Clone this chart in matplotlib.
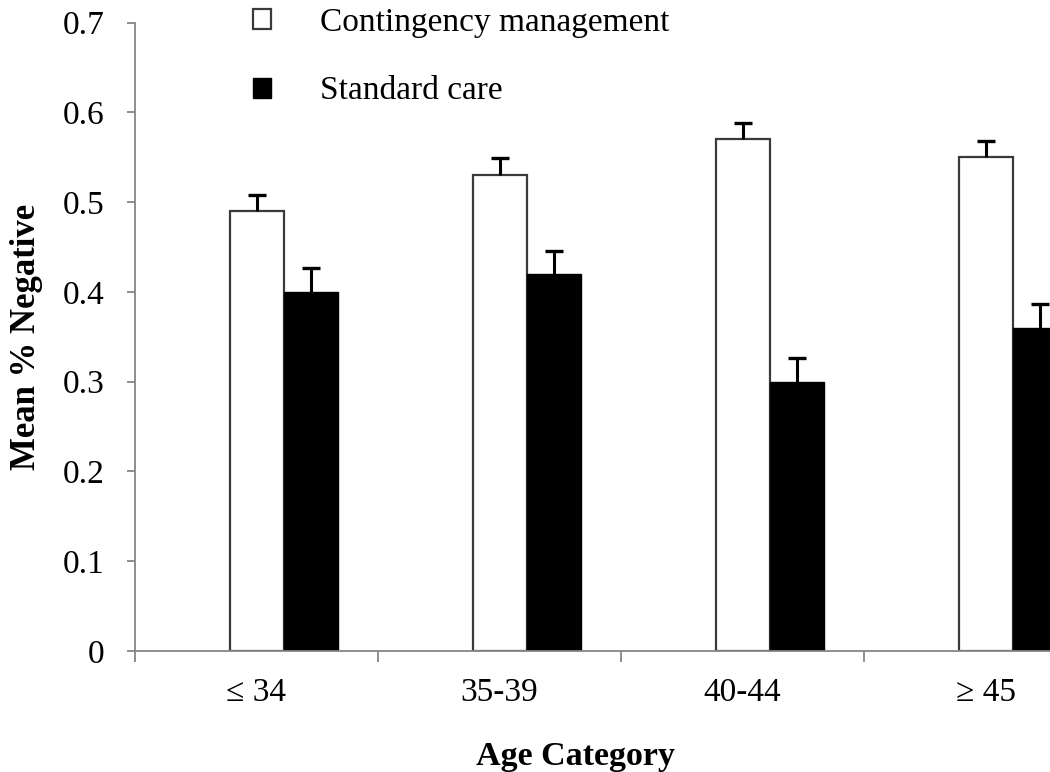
import matplotlib
matplotlib.use("Agg")
import matplotlib.pyplot as plt
import numpy as np

plt.rcParams['font.family'] = ['Liberation Serif', 'DejaVu Serif']

categories = ["\u2264 34", "35-39", "40-44", "\u2265 45"]
cm_values = [0.49, 0.53, 0.57, 0.55]
cm_errors = [0.018, 0.019, 0.018, 0.018]
sc_values = [0.40, 0.42, 0.30, 0.36]
sc_errors = [0.027, 0.026, 0.026, 0.027]
series_names = ["Contingency management", "Standard care"]

FS = 24
fig = plt.figure(figsize=(10.5, 7.72), dpi=100)
# axes extends past right figure edge (as in the reference crop)
ax = fig.add_axes([135/1050, (772-651)/772, 972/1050, 628.5/772])

x = np.arange(len(categories))
w = 1/4.5
axis_gray = '#868686'

b1 = ax.bar(x, cm_values, w, color='white', edgecolor='#3a3a3a', linewidth=1.6, zorder=2)
b2 = ax.bar(x + w, sc_values, w, color='black', edgecolor='black', linewidth=1.0, zorder=2)
for xs, vals, errs in [(x, cm_values, cm_errors), (x + w, sc_values, sc_errors)]:
    eb = ax.errorbar(xs, vals, yerr=[np.zeros(len(vals)), errs], fmt='none', ecolor='black',
                     elinewidth=2.2, capsize=6.5, capthick=2.4, zorder=3)
    caps = eb.lines[1]
    caps[0].set_visible(False)

ax.set_xlim(-0.5, len(categories) - 0.5)
ax.set_ylim(0, 0.7)
ax.set_yticks(np.arange(0, 0.71, 0.1))
ax.set_yticklabels(['0'] + [f'{v:.1f}' for v in np.arange(0.1, 0.71, 0.1)], fontsize=FS)

for s in ['top', 'right']:
    ax.spines[s].set_visible(False)
for s in ['left', 'bottom']:
    ax.spines[s].set_color(axis_gray)
    ax.spines[s].set_linewidth(1.3)

ax.tick_params(axis='y', direction='out', length=6, width=1.3, color=axis_gray, pad=16)
ax.set_xticks(np.arange(-0.5, len(categories)), minor=False)
ax.set_xticklabels([])
ax.tick_params(axis='x', which='major', direction='out', length=8, width=1.3, color=axis_gray)
ax.set_xticks(x, minor=True)
ax.set_xticklabels(categories, minor=True, fontsize=FS)
ax.tick_params(axis='x', which='minor', length=0, pad=19)

ax.set_ylabel('Mean % Negative', fontsize=FS + 1, fontweight='bold', labelpad=14)
fig.text(575/1050, 1 - 757/772, 'Age Category', fontsize=FS + 0.5, fontweight='bold',
         ha='center', va='center')

leg = fig.legend([b1, b2], series_names, loc='upper left',
                 bbox_to_anchor=(253/1050, 1 - 7/772), frameon=False, fontsize=FS,
                 handlelength=0.55, handleheight=0.55, handletextpad=1.45,
                 labelspacing=1.15, borderpad=0, borderaxespad=0)

fig.savefig('out.png', dpi=100)
